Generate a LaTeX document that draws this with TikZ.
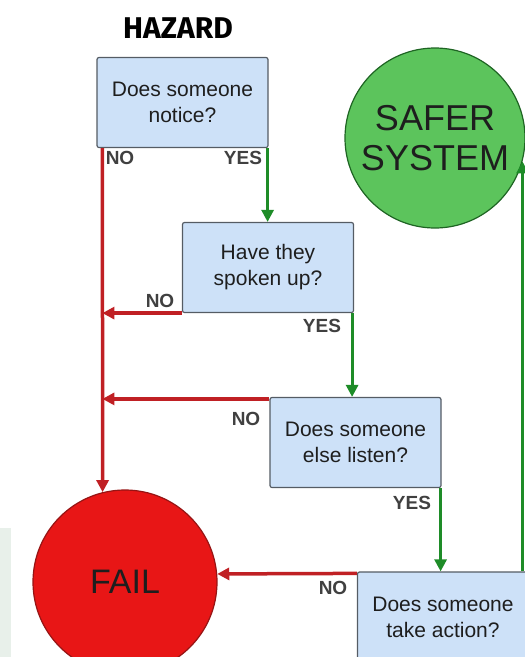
\documentclass[tikz,border=0pt]{standalone}
\usepackage{fontspec}
\setmainfont{Liberation Sans}
\newfontfamily\hazfont{Fira Sans}
\usetikzlibrary{arrows.meta}
\definecolor{redln}{RGB}{192,32,36}
\definecolor{failfill}{RGB}{232,22,22}
\definecolor{failedge}{RGB}{150,20,20}
\definecolor{safefill}{RGB}{92,196,92}
\definecolor{safeedge}{RGB}{30,100,35}
\definecolor{greenln}{RGB}{30,140,40}
\definecolor{boxfill}{RGB}{205,225,248}
\definecolor{boxedge}{RGB}{85,92,100}
\definecolor{txt}{RGB}{30,30,30}
\definecolor{paleg}{RGB}{232,240,234}
\tikzset{
  qbox/.style={draw=boxedge, line width=1.2pt, fill=boxfill, rounded corners=2pt,
    minimum width=171pt, minimum height=90pt, align=center, text=txt,
    font=\fontsize{21}{26}\selectfont, inner sep=0pt},
  endcircle/.style={circle, line width=1.2pt, inner sep=0pt, align=center, text=txt},
  redarrow/.style={draw=redln, line width=3.5pt, -{Triangle[length=12pt,width=12pt]}},
  greenarrow/.style={draw=greenln, line width=2.8pt, -{Triangle[length=12pt,width=12pt]}},
  lbl/.style={font=\fontsize{19}{19}\selectfont\bfseries, text=txt!85, inner sep=0pt}
}
\begin{document}
\begin{tikzpicture}[x=1pt,y=-1pt]
\useasboundingbox (0,0) rectangle (525,657);
\clip (0,0) rectangle (525,657);
\fill[paleg] (0,528) rectangle (11,657);
\node[font=\hazfont\fontsize{30}{30}\selectfont\bfseries, text=black] (haz) at (178,28) {HAZARD};
\node[qbox] (b1) at (182.5,102.5) {Does someone\\notice?};
\node[qbox] (b2) at (268,267.5) {Have they\\spoken up?};
\node[qbox] (b3) at (355.5,442.5) {Does someone\\else listen?};
\node[qbox] (b4) at (443,617) {Does someone\\take action?};
\node[endcircle, draw=failedge, fill=failfill, minimum size=184pt,
  font=\fontsize{34}{38}\selectfont] (fail) at (125,582) {FAIL};
\node[endcircle, draw=safeedge, fill=safefill, minimum size=180pt,
  font=\fontsize{36}{40}\selectfont] (safe) at (435,138) {SAFER\\SYSTEM};
\coordinate (trunk) at ([xshift=6pt]b1.south west);
% red connectors
\draw[redarrow] (trunk) -- (fail.104);
\draw[redarrow] (b2.south west) -- (b2.south west -| trunk);
\draw[redarrow] ([yshift=-2pt]b3.north west) -- ([yshift=-2pt]b3.north west -| trunk);
\draw[redarrow] ([yshift=-2pt]b4.north west) -- (fail.5);
% green connectors
\draw[greenarrow] ([xshift=-1pt]b1.south east) -- ([xshift=-1pt]b1.south east |- b2.north);
\draw[greenarrow] ([xshift=-2pt]b2.south east) -- ([xshift=-2pt]b2.south east |- b3.north);
\draw[greenarrow] ([xshift=-1pt]b3.south east) -- ([xshift=-1pt]b3.south east |- b4.north);
\draw[greenarrow] (safe.-15 |- b4.north) -- (safe.-15);
% labels
\node[lbl] (n1) at (120,158) {NO};
\node[lbl] (y1) at (243,158) {YES};
\node[lbl] (n2) at (160,301) {NO};
\node[lbl] (y2) at (322,326) {YES};
\node[lbl] (n3) at (246,419) {NO};
\node[lbl] (y3) at (412,503) {YES};
\node[lbl] (n4) at (333,588) {NO};
\end{tikzpicture}
\end{document}
